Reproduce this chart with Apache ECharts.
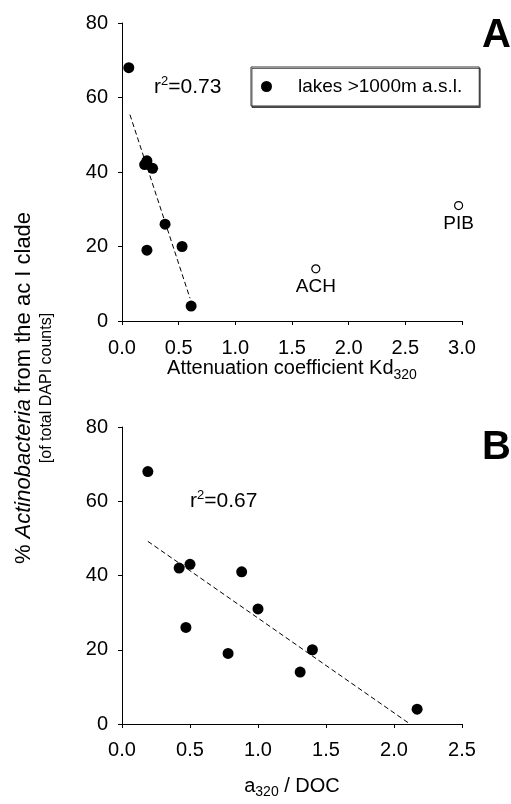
<!DOCTYPE html>
<html>
<head>
<meta charset="utf-8">
<script src="https://cdn.jsdelivr.net/npm/echarts@6/dist/echarts.min.js"></script>
<style>
html,body{margin:0;padding:0;background:#fff;}
#chart{width:511px;height:804px;}
</style>
</head>
<body>
<div id="chart"></div>
<script>
// ---- data ----
var yTicks = [0, 20, 40, 60, 80];
var xTicksA = [0.0, 0.5, 1.0, 1.5, 2.0, 2.5, 3.0];
var xTicksB = [0.0, 0.5, 1.0, 1.5, 2.0, 2.5];

// Panel A: attenuation coefficient Kd320 vs % Actinobacteria
var lakesA = [[0.06, 68], [0.20, 42], [0.22, 43], [0.27, 41], [0.38, 26], [0.22, 19], [0.53, 20], [0.61, 4]];
var openNames = ['ACH', 'PIB'];
var openA = [[1.71, 14], [2.97, 31]];
var trendA = [[0.07, 55.4], [0.60, 6.1]];

// Panel B: a320 / DOC vs % Actinobacteria
var lakesB = [[0.19, 68], [0.42, 42], [0.50, 43], [0.88, 41], [1.00, 31], [0.47, 26], [0.78, 19], [1.40, 20], [1.31, 14], [2.17, 4]];
var trendB = [[0.19, 49.2], [2.11, 0.2]];

var legendName = 'lakes >1000m a.s.l.';
var r2A = '0.73';
var r2B = '0.67';

// ---- chart ----
var FONT = '"Liberation Sans", Arial, Helvetica, sans-serif';
var chart = echarts.init(document.getElementById('chart'), null, {renderer: 'canvas'});

function xAxisCfg(gi, max, name, gap, margin) {
  return {
    type: 'value', gridIndex: gi, min: 0, max: max, interval: 0.5,
    axisLine: {show: true, onZero: false, lineStyle: {color: '#000', width: 1}},
    axisTick: {show: true, inside: false, length: 4, lineStyle: {color: '#000', width: 1}},
    axisLabel: {show: true, color: '#000', fontFamily: FONT, fontSize: 20, margin: margin,
      formatter: function (v) { return v.toFixed(1); }},
    splitLine: {show: false},
    name: name, nameLocation: 'middle', nameGap: gap,
    nameTextStyle: {color: '#000', fontFamily: FONT, fontSize: 19,
      rich: {
        n: {color: '#000', fontFamily: FONT, fontSize: 20},
        sub: {color: '#000', fontFamily: FONT, fontSize: 14, padding: [12, 0, 0, 0]}
      }}
  };
}
function yAxisCfg(gi) {
  return {
    type: 'value', gridIndex: gi, min: 0, max: 80, interval: 20,
    axisLine: {show: true, onZero: false, lineStyle: {color: '#000', width: 1}},
    axisTick: {show: true, inside: false, length: 4, lineStyle: {color: '#000', width: 1}},
    axisLabel: {show: true, color: '#000', fontFamily: FONT, fontSize: 20, margin: 14},
    splitLine: {show: false}
  };
}

var option = {
  backgroundColor: '#fff',
  animation: false,
  grid: [
    {left: 122, top: 23, width: 340, height: 298},
    {left: 122, top: 427, width: 340, height: 297}
  ],
  xAxis: [
    xAxisCfg(0, 3.0, '{n|Attenuation coefficient Kd}{sub|320}', 31, 17),
    xAxisCfg(1, 2.5, '{n|a}{sub|320}{n| / DOC}', 49, 16)
  ],
  yAxis: [yAxisCfg(0), yAxisCfg(1)],
  legend: {
    show: true,
    data: [legendName],
    left: 251, top: 67,
    orient: 'horizontal',
    icon: 'circle',
    itemWidth: 11, itemHeight: 11,
    padding: [10, 17, 10, 10],
    borderColor: '#333', borderWidth: 1,
    shadowColor: 'rgba(0,0,0,0.6)', shadowOffsetX: 1, shadowOffsetY: 1.5, shadowBlur: 0,
    backgroundColor: '#fff',
    textStyle: {color: '#000', fontFamily: FONT, fontSize: 19, padding: [0, 0, 0, 21]},
    selectedMode: false
  },
  graphic: [
    {type: 'text', left: 154, top: 75, style: {
      text: '{n|r}{sup|2}{n|=' + r2A + '}', fill: '#000',
      rich: {n: {fontFamily: FONT, fontSize: 21, fill: '#000'}, sup: {fontFamily: FONT, fontSize: 13, fill: '#000', padding: [0, 0, 11, 0]}}
    }},
    {type: 'text', left: 190, top: 489, style: {
      text: '{n|r}{sup|2}{n|=' + r2B + '}', fill: '#000',
      rich: {n: {fontFamily: FONT, fontSize: 21, fill: '#000'}, sup: {fontFamily: FONT, fontSize: 13, fill: '#000', padding: [0, 0, 11, 0]}}
    }},
    {type: 'text', left: 482, top: 16, style: {text: 'A', fontFamily: FONT, fontSize: 40, fontWeight: 'bold', fill: '#000'}},
    {type: 'text', left: 482, top: 428, style: {text: 'B', fontFamily: FONT, fontSize: 40, fontWeight: 'bold', fill: '#000'}},
    {type: 'text', x: 24, y: 388, rotation: Math.PI / 2, style: {
      text: '{n|% }{i|Actinobacteria}{n| from the ac I clade}', align: 'center', verticalAlign: 'middle', fill: '#000',
      rich: {n: {fontFamily: FONT, fontSize: 22, fill: '#000'}, i: {fontFamily: FONT, fontSize: 22, fontStyle: 'italic', fill: '#000'}}
    }},
    {type: 'text', x: 47, y: 388, rotation: Math.PI / 2, style: {
      text: '[of total DAPI counts]', align: 'center', verticalAlign: 'middle', fill: '#000',
      fontFamily: FONT, fontSize: 16
    }}
  ],
  series: [
    {name: legendName, type: 'scatter', xAxisIndex: 0, yAxisIndex: 0, data: lakesA,
      symbol: 'circle', symbolSize: 11, itemStyle: {color: '#000', opacity: 1}, z: 5},
    {name: 'open', type: 'scatter', xAxisIndex: 0, yAxisIndex: 0,
      data: openA.map(function (p, i) { return {value: p, name: openNames[i]}; }),
      symbol: 'circle', symbolSize: 8, itemStyle: {color: '#fff', borderColor: '#000', borderWidth: 1.2, opacity: 1},
      label: {show: true, position: 'bottom', distance: 4, formatter: '{b}', color: '#000', opacity: 1, fontFamily: FONT, fontSize: 19}},
    {name: 'trendA', type: 'line', xAxisIndex: 0, yAxisIndex: 0, data: trendA, symbol: 'none',
      lineStyle: {color: '#000', width: 1, type: [5, 3]}, z: 3},
    {name: 'lakesB', type: 'scatter', xAxisIndex: 1, yAxisIndex: 1, data: lakesB,
      symbol: 'circle', symbolSize: 11, itemStyle: {color: '#000', opacity: 1}, z: 5},
    {name: 'trendB', type: 'line', xAxisIndex: 1, yAxisIndex: 1, data: trendB, symbol: 'none',
      lineStyle: {color: '#000', width: 1, type: [5, 3]}, z: 3}
  ]
};
chart.setOption(option);
</script>
</body>
</html>
